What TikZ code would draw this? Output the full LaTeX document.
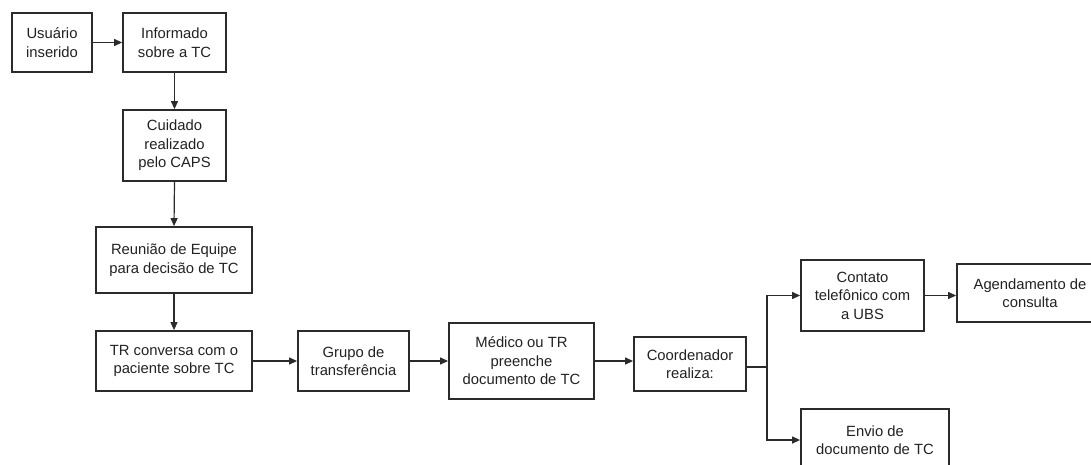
\documentclass[tikz,border=0pt]{standalone}
\usepackage{fontspec}
\setmainfont{Liberation Sans}
\usetikzlibrary{arrows.meta}
\definecolor{ink}{HTML}{2B2B2B}
\definecolor{txt}{HTML}{222222}
\begin{document}
\begin{tikzpicture}[x=1pt,y=-1pt,
  stepbox/.style={draw=ink, line width=1.8pt, fill=white, align=center,
    inner sep=0pt, text=txt,
    font=\fontsize{14.8pt}{18.5pt}\selectfont},
  flow/.style={draw=ink, line width=1.2pt, -{Triangle[length=8pt,width=7pt]}}]
\useasboundingbox (0,0) rectangle (1091,464);
% boxes: centre, then size
\node[stepbox, minimum width=80pt, minimum height=59pt] (b1) at (52,42.5) {Usuário\\inserido};
\node[stepbox, minimum width=103pt, minimum height=59pt] (b2) at (174.5,42.5) {Informado\\sobre a TC};
\node[stepbox, minimum width=103pt, minimum height=71pt] (b3) at (174.5,145.5) {Cuidado\\realizado\\pelo CAPS};
\node[stepbox, minimum width=156pt, minimum height=66pt] (b4) at (174,260) {Reunião de Equipe\\para decisão de TC};
\node[stepbox, minimum width=156pt, minimum height=60pt] (b5) at (174,361) {TR conversa com o\\paciente sobre TC};
\node[stepbox, minimum width=111pt, minimum height=60pt] (b6) at (353.5,361) {Grupo de\\transferência};
\node[stepbox, minimum width=145pt, minimum height=76pt] (b7) at (521.5,361) {Médico ou TR\\preenche\\documento de TC};
\node[stepbox, minimum width=112pt, minimum height=54pt] (b8) at (690,364) {Coordenador\\realiza:};
\node[stepbox, minimum width=123pt, minimum height=71pt] (b9) at (862.5,295.5) {Contato\\telefônico com\\a UBS};
\node[stepbox, minimum width=146pt, minimum height=58pt] (b10) at (1030,293) {Agendamento de\\consulta};
\node[stepbox, minimum width=148pt, minimum height=62pt] (b11) at (875,440) {Envio de\\documento de TC};
% connectors
\draw[flow] (b1.east) -- (b2.west);
\draw[flow] (b2.south) -- (b3.north);
\draw[flow] (b3.south) -- (b4.north);
\draw[flow] (b4.south) -- (b5.north);
\draw[flow] (b5.east) -- (b6.west);
\draw[flow] (b6.east) -- (b7.west);
\draw[flow] (b7.east) -- (b7.east -| b8.west);
\coordinate (split) at (767,367);
\draw[draw=ink, line width=1.8pt] (b8.east |- split) -- (split);
\draw[flow] (split) |- (b9.west);
\draw[flow] (split) |- (b11.west);
\draw[flow] (b9.east) -- (b9.east -| b10.west);
\end{tikzpicture}
\end{document}
